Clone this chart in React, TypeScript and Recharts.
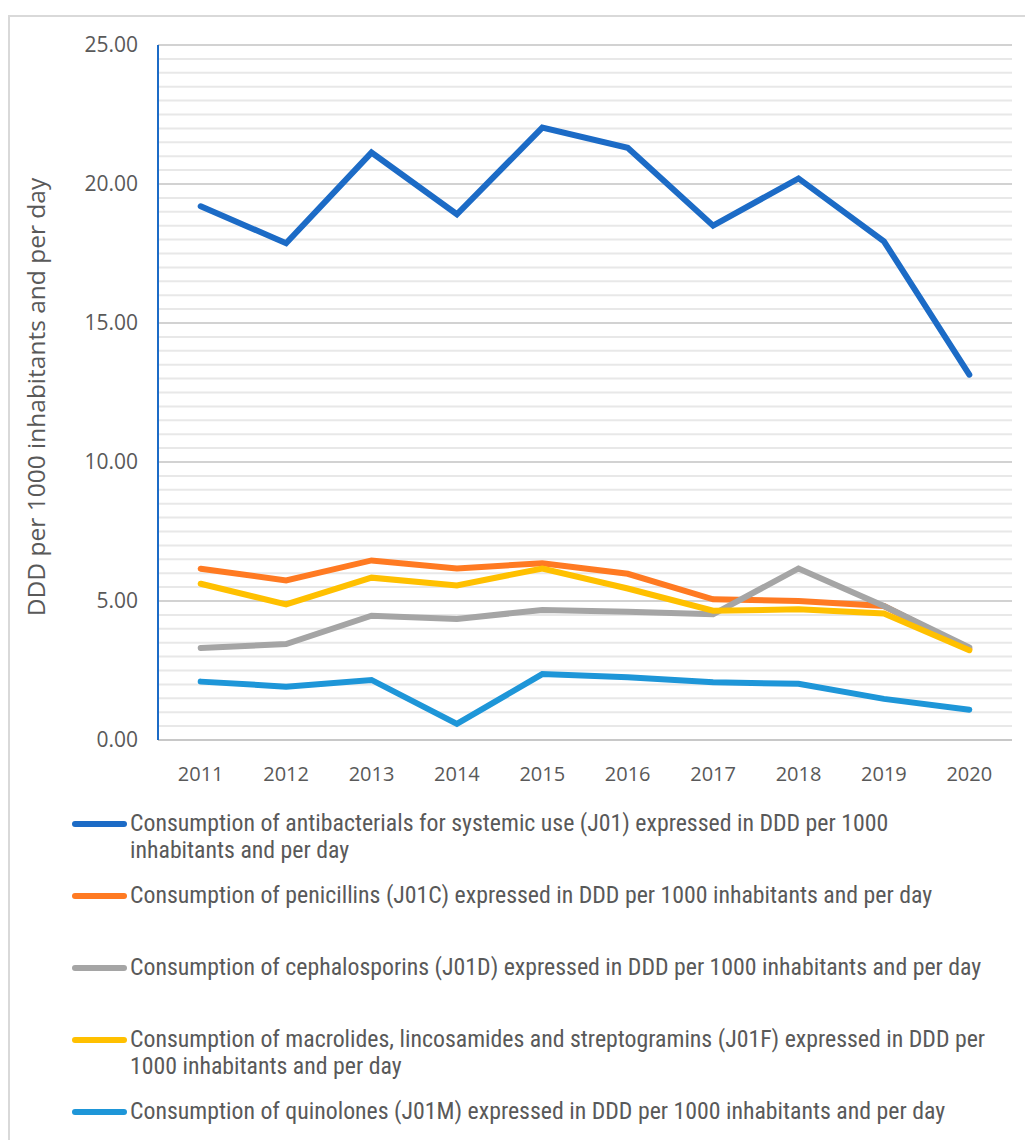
import { LineChart, Line, XAxis, YAxis, CartesianGrid, Legend, Label, ReferenceLine } from "recharts";

const years = ["2011", "2012", "2013", "2014", "2015", "2016", "2017", "2018", "2019", "2020"];

const j01 = [19.2, 17.87, 21.13, 18.91, 22.03, 21.3, 18.5, 20.2, 17.94, 13.14];
const j01c = [6.16, 5.74, 6.46, 6.17, 6.36, 5.98, 5.06, 5.0, 4.82, 3.27];
const j01d = [3.31, 3.45, 4.47, 4.35, 4.68, 4.61, 4.52, 6.17, 4.82, 3.33];
const j01f = [5.62, 4.88, 5.84, 5.56, 6.17, 5.45, 4.65, 4.7, 4.55, 3.23];
const j01m = [2.1, 1.92, 2.16, 0.58, 2.37, 2.26, 2.08, 2.02, 1.48, 1.09];

const yTicks = [0, 5, 10, 15, 20, 25];
// light gridlines every 0.5
const minorLines = Array.from({ length: 51 }, (_, i) => i * 0.5).filter((v) => v % 5 !== 0);

const series = [
  { key: "j01", color: "#1C6BC6", name: "Consumption of antibacterials for systemic use (J01) expressed in DDD per 1000\ninhabitants and per day" },
  { key: "j01c", color: "#FF7A22", name: "Consumption of penicillins (J01C) expressed in DDD per 1000 inhabitants and per day" },
  { key: "j01d", color: "#A5A5A5", name: "Consumption of cephalosporins (J01D) expressed in DDD per 1000 inhabitants and per day" },
  { key: "j01f", color: "#FFC000", name: "Consumption of macrolides, lincosamides and streptogramins (J01F) expressed in DDD per\n1000 inhabitants and per day" },
  { key: "j01m", color: "#1E96D8", name: "Consumption of quinolones (J01M) expressed in DDD per 1000 inhabitants and per day" },
];

const data = years.map((year, i) => ({
  year,
  j01: j01[i],
  j01c: j01c[i],
  j01d: j01d[i],
  j01f: j01f[i],
  j01m: j01m[i],
}));

const font = "'Open Sans', 'Noto Sans', sans-serif";
const legendFont = "'Roboto Condensed', 'Liberation Sans Narrow', 'Open Sans', sans-serif";

const renderLegend = () => (
  <div style={{ paddingLeft: 62, width: 940 }}>
    {series.map((s) => (
      <div key={s.key} style={{ height: 72, display: "flex", alignItems: "flex-start" }}>
        <div
          style={{
            width: 55,
            height: 6,
            borderRadius: 3,
            background: s.color,
            marginTop: 11,
            flexShrink: 0,
          }}
        />
        <div
          style={{
            fontFamily: legendFont,
            fontSize: 23.8,
            lineHeight: "27px",
            color: "#595959",
            marginLeft: 3,
            whiteSpace: "pre",
          }}
        >
          {s.name}
        </div>
      </div>
    ))}
  </div>
);

const App = () => {
  return (
    <div
      style={{
        position: "absolute",
        left: 8,
        top: 15,
        width: 1040,
        height: 1150,
        border: "2px solid #D9D9D9",
        background: "#fff",
      }}
    >
      <LineChart
        width={1008}
        height={1123}
        data={data}
        margin={{ top: 28, right: 6, bottom: 0, left: 0 }}
      >
        {minorLines.map((v) => (
          <ReferenceLine key={v} y={v} stroke="#E8E8E8" strokeWidth={2} />
        ))}
        <CartesianGrid vertical={false} stroke="#D2D2D2" strokeWidth={2} />
        <XAxis
          dataKey="year"
          scale="band"
          axisLine={{ stroke: "#C8C8C8", strokeWidth: 2 }}
          tickLine={false}
          tickMargin={21}
          height={70}
          tick={{ fontSize: 20, fill: "#595959", fontFamily: font }}
        />
        <YAxis
          domain={[0, 25]}
          ticks={yTicks}
          width={148}
          axisLine={{ stroke: "#1C6BC6", strokeWidth: 2 }}
          tickLine={false}
          tickSize={0}
          tickMargin={20}
          tickFormatter={(v: number) => v.toFixed(2)}
          tick={{ fontSize: 21, fill: "#595959", fontFamily: font }}
        >
          <Label
            content={() => (
              <text
                x={25}
                y={380}
                transform="rotate(-90 25 380)"
                textAnchor="middle"
                dominantBaseline="central"
                fontSize={24.5}
                fill="#595959"
                fontFamily={font}
              >
                DDD per 1000 inhabitants and per day
              </text>
            )}
          />
        </YAxis>
        {series.map((s) => (
          <Line
            key={s.key}
            type="linear"
            dataKey={s.key}
            name={s.name}
            stroke={s.color}
            strokeWidth={6}
            strokeLinecap="round"
            dot={false}
            isAnimationActive={false}
          />
        ))}
        <Legend
          verticalAlign="bottom"
          align="left"
          content={renderLegend}
          wrapperStyle={{ left: 0, bottom: 0 }}
          height={330}
        />
      </LineChart>
    </div>
  );
};

export default App;
